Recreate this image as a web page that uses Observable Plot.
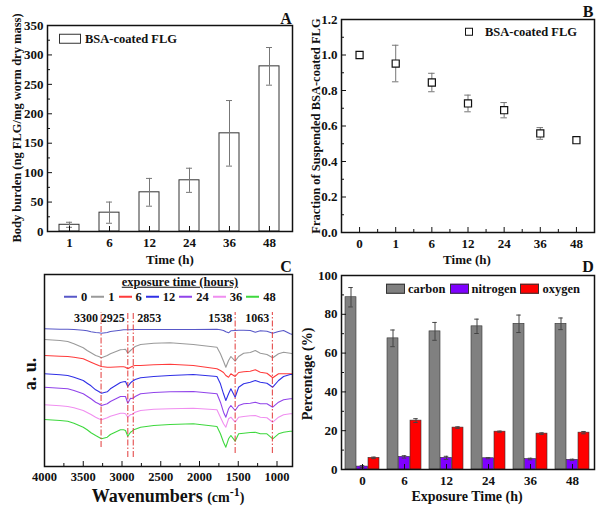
<!DOCTYPE html>
<html><head><meta charset="utf-8">
<script src="https://cdn.jsdelivr.net/npm/d3@7"></script>
<script src="https://cdn.jsdelivr.net/npm/@observablehq/plot@0.6"></script>
<style>
body{margin:0;background:#fff}
#root{position:relative;width:604px;height:511px;overflow:hidden;font-family:"Liberation Serif","Times New Roman",serif;font-weight:bold;color:#111;background:#fff}
.p{position:absolute}
.t{position:absolute;white-space:nowrap;line-height:1}
.c{transform:translate(-50%,-50%)}
.r{transform:translate(-50%,-50%) rotate(-90deg)}
.row{position:absolute;display:flex;align-items:center;white-space:nowrap;line-height:1;transform:translateY(-50%)}
</style></head><body><div id="root"></div>
<script>
// ---------- Panel A: body burden ----------
const timesA = ["1","6","12","24","36","48"];
const burden = [11.4, 32, 66.6, 87, 166.8, 280.6];
const burdenErr = [4.3, 18, 23.6, 20.5, 55.7, 32];

// ---------- Panel B: suspended fraction ----------
const timesB = ["0","1","6","12","24","36","48"];
const fraction = [1.0, 0.952, 0.845, 0.727, 0.689, 0.558, 0.52];
const fractionErr = [0.019, 0.103, 0.052, 0.047, 0.043, 0.033, 0.015];

// ---------- Panel C: FTIR spectra (a.u., offset) ----------
const wavenumbers = [4000,3800,3700,3620,3500,3450,3400,3340,3300,3265,3190,3150,3020,2980,2955,2925,2890,2870,2850,2830,2760,2590,2380,2080,1775,1730,1690,1660,1625,1595,1540,1495,1430,1345,1280,1215,1130,1055,980,915,830,800];
const spec0 = [137.7,137.3,137.3,137.0,136.3,135.7,134.7,134.0,133.7,133.3,134.0,135.0,136.3,136.7,136.7,136.7,136.7,137.0,137.0,137.0,137.0,137.0,137.0,137.0,137.3,136.7,136.0,134.7,133.7,135.7,136.0,136.3,136.3,136.0,134.3,135.7,135.3,133.3,135.0,136.0,132.7,132.0];
const spec1 = [127.0,126.0,125.0,122.7,118.7,116.0,113.7,111.0,110.0,108.7,111.0,112.7,116.7,117.0,117.3,113.3,116.0,117.3,118.7,120.0,122.0,123.3,123.7,122.0,119.3,112.7,105.3,99.3,106.0,110.0,105.3,110.0,113.3,114.0,116.0,113.3,112.0,108.7,112.7,114.3,113.3,112.7];
const spec6 = [111.0,110.3,110.0,109.3,107.7,106.0,104.3,102.3,101.0,100.0,99.3,99.3,99.7,99.7,99.3,97.7,99.3,100.0,100.7,101.0,101.0,101.7,102.3,101.0,97.7,96.0,94.0,91.0,89.3,92.7,90.0,94.0,94.7,95.3,96.7,94.3,93.3,88.7,92.7,92.7,92.7,92.7];
const spec12 = [92.7,91.7,91.0,89.3,86.0,83.3,80.7,76.7,75.0,73.3,74.7,77.7,84.0,84.7,85.0,80.0,83.7,85.0,86.0,87.0,88.7,90.0,91.0,92.0,90.0,82.7,72.7,66.0,72.7,77.7,69.3,79.3,82.7,84.3,86.0,84.3,83.3,79.3,86.0,90.0,92.0,92.0];
const spec24 = [79.3,78.3,77.7,76.0,72.7,70.3,67.7,64.3,62.7,61.0,62.7,65.0,70.0,70.0,70.0,63.3,68.3,68.0,68.7,70.0,72.7,74.0,74.7,75.0,72.7,64.3,54.3,49.3,57.7,61.0,56.0,61.0,62.7,63.3,64.3,62.7,62.7,59.3,64.3,66.7,67.7,67.7];
const spec36 = [61.7,60.7,60.0,58.7,56.0,54.0,52.0,49.3,47.7,46.7,48.7,50.3,53.3,53.3,52.7,49.3,52.0,52.0,53.3,54.3,56.0,57.3,57.7,58.3,56.7,49.3,42.7,39.3,47.7,49.3,44.3,49.3,50.0,50.7,51.0,49.3,48.7,44.3,49.3,51.7,52.7,52.7];
const spec48 = [47.0,46.0,45.3,43.3,39.3,36.7,33.7,31.0,29.3,27.7,29.3,32.0,36.7,36.7,36.0,30.3,34.3,35.3,36.7,37.3,39.3,41.0,42.0,42.7,40.0,32.7,24.3,19.3,27.7,31.0,25.3,32.7,33.3,34.0,34.3,32.7,32.7,27.7,32.7,34.3,35.3,35.3];
const exposureTimes = ["0","1","6","12","24","36","48"];
const spectraColors = ["#5858c8","#9a9a9a","#ff3b3b","#3030e6","#9144ea","#f08ef0","#3ed83e"];
const peakPos = [3270, 2925, 2855, 1540, 1060];
const peakLabels = ["3300","2925","2853","1538","1063"];
const peakLineBottom = [19, 9, 9, 13, 13];
const peakLineTop = 154;

// ---------- Panel D: elemental composition ----------
const timesD = ["0","6","12","24","36","48"];
const elements = ["carbon","nitrogen","oxygen"];
const elementColors = ["#808080","#7f00ff","#ff0000"];
const carbon = [88.8, 67.6, 71.2, 73.8, 75.1, 75.1];
const carbonErr = [5.0, 4.3, 4.6, 3.7, 4.5, 3.0];
const nitrogen = [1.5, 6.5, 6.0, 5.8, 5.4, 5.0];
const nitrogenErr = [0.5, 0.6, 0.8, 0.3, 0.4, 0.3];
const oxygen = [6.0, 25.2, 21.6, 19.5, 18.5, 19.0];
const oxygenErr = [0.4, 1.0, 0.4, 0.3, 0.4, 0.6];

// ---------------------------------------------------------
const root = document.getElementById("root");
const style = {fontFamily: '"Liberation Serif", "Times New Roman", serif', fontSize: "13px", fontWeight: "bold", background: "transparent", overflow: "visible", color: "#111"};
const blank = () => "";
function place(node, left, top) {
  const d = document.createElement("div");
  d.className = "p"; d.style.left = left + "px"; d.style.top = top + "px";
  d.appendChild(node); root.appendChild(d);
}
function label(html, x, y, size, cls) {
  const d = document.createElement("div");
  d.className = "t " + cls; d.style.left = x + "px"; d.style.top = y + "px";
  d.style.fontSize = size + "px"; d.innerHTML = html; root.appendChild(d);
  return d;
}

// Panel A
const dataA = timesA.map((t, i) => ({t, v: burden[i], lo: burden[i] - burdenErr[i], hi: burden[i] + burdenErr[i]}));
place(Plot.plot({
  width: 300, height: 250, marginLeft: 47, marginRight: 8, marginTop: 25, marginBottom: 19,
  style,
  x: {type: "band", domain: timesA, paddingInner: 0.49, paddingOuter: 0.24},
  y: {domain: [0, 350]},
  marks: [
    Plot.barY(dataA, {x: "t", y: "v", fill: "white", stroke: "#333", strokeWidth: 1}),
    Plot.ruleX(dataA, {x: "t", y1: "lo", y2: "hi", stroke: "#777"}),
    Plot.tickY(dataA, {x: "t", y: "lo", stroke: "#777", insetLeft: 7, insetRight: 7}),
    Plot.tickY(dataA, {x: "t", y: "hi", stroke: "#777", insetLeft: 7, insetRight: 7}),
    Plot.axisY(d3.range(0, 351, 50), {tickSize: -5, tickPadding: 9, label: null}),
    Plot.axisY(d3.range(25, 350, 50), {tickSize: -3, tickFormat: blank, label: null}),
    Plot.axisX({tickSize: -5, tickPadding: 11, label: null}),
    Plot.frame({stroke: "#111", strokeWidth: 1.5})
  ]
}), 0, 0);

// Panel B
const dataB = timesB.map((t, i) => ({i, t, v: fraction[i], lo: fraction[i] - fractionErr[i], hi: fraction[i] + fractionErr[i]}));
place(Plot.plot({
  width: 304, height: 250, marginLeft: 41, marginRight: 10, marginTop: 19, marginBottom: 18,
  style,
  x: {domain: [-0.5, timesB.length - 0.5]},
  y: {domain: [0, 1.2]},
  marks: [
    Plot.ruleX(dataB, {x: "i", y1: "lo", y2: "hi", stroke: "#777"}),
    Plot.ruleY(dataB, {x1: d => d.i - 0.09, x2: d => d.i + 0.09, y: "lo", stroke: "#777"}),
    Plot.ruleY(dataB, {x1: d => d.i - 0.09, x2: d => d.i + 0.09, y: "hi", stroke: "#777"}),
    Plot.dot(dataB, {x: "i", y: "v", symbol: "square", r: 4, stroke: "#111", fill: "white", strokeWidth: 1.2}),
    Plot.axisY(d3.range(0, 1.21, 0.2), {tickFormat: d3.format(".1f"), tickSize: -5, tickPadding: 9, label: null}),
    Plot.axisY(d3.range(0.1, 1.2, 0.2), {tickSize: -3, tickFormat: blank, label: null}),
    Plot.axisX(d3.range(timesB.length), {tickFormat: i => timesB[i], tickSize: -5, tickPadding: 11, label: null}),
    Plot.axisX(d3.range(0.5, timesB.length - 1, 1), {tickSize: -3, tickFormat: blank, label: null}),
    Plot.frame({stroke: "#111", strokeWidth: 1.5})
  ]
}), 300, 0);

// Panel C
const spectra = [spec0, spec1, spec6, spec12, spec24, spec36, spec48];
const dataC = exposureTimes.flatMap((t, k) => wavenumbers.map((w, j) => ({t, w, a: spectra[k][j]})));
const peaks = peakPos.map((pos, i) => ({pos, label: peakLabels[i], bottom: peakLineBottom[i], i}));
place(Plot.plot({
  width: 300, height: 235, marginLeft: 44, marginRight: 8, marginTop: 19, marginBottom: 24,
  style: {...style, fontSize: "12.5px"},
  x: {domain: [4000, 800]},
  y: {domain: [0, 192], axis: null},
  color: {domain: exposureTimes, range: spectraColors},
  marks: [
    Plot.line(dataC, {x: "w", y: "a", z: "t", stroke: "t", strokeWidth: 1.1}),
    Plot.ruleX(peaks, {x: "pos", y1: "bottom", y2: peakLineTop, stroke: "#e23a3a", strokeWidth: 1, strokeDasharray: "6,2,1.5,2"}),
    Plot.text(peaks.filter(d => d.i !== 2), {x: "pos", text: "label", frameAnchor: "top", dy: 39, dx: -3, textAnchor: "end", fill: "#111", fontSize: 12}),
    Plot.text(peaks.filter(d => d.i === 2), {x: "pos", text: "label", frameAnchor: "top", dy: 39, dx: 4, textAnchor: "start", fill: "#111", fontSize: 12}),
    Plot.axisX(d3.range(1000, 4001, 500), {tickFormat: d3.format("d"), tickSize: -5, tickPadding: 11, label: null}),
    Plot.axisX(d3.range(1250, 4000, 500), {tickSize: -3, tickFormat: blank, label: null}),
    Plot.frame({stroke: "#111", strokeWidth: 1.5})
  ]
}), 0, 255);

// Panel D
const dataD = timesD.map((t, i) => ({t,
  carbon: carbon[i], cLo: carbon[i] - carbonErr[i], cHi: carbon[i] + carbonErr[i],
  nitrogen: nitrogen[i], nLo: nitrogen[i] - nitrogenErr[i], nHi: nitrogen[i] + nitrogenErr[i],
  oxygen: oxygen[i], oLo: oxygen[i] - oxygenErr[i], oHi: oxygen[i] + oxygenErr[i]}));
const bw = 34.5, third = bw / 3, capIn = bw / 2 - 2.5;
const groups = [["carbon","cLo","cHi",0,2*third,-third],["nitrogen","nLo","nHi",third,third,0],["oxygen","oLo","oHi",2*third,0,third]];
const marksD = [];
groups.forEach(([key, lo, hi, il, ir, dx], k) => {
  marksD.push(Plot.barY(dataD, {x: "t", y: key, fill: elementColors[k], stroke: "#333", strokeWidth: 0.6, insetLeft: il, insetRight: ir}));
});
groups.forEach(([key, lo, hi, il, ir, dx]) => {
  marksD.push(Plot.ruleX(dataD, {x: "t", y1: lo, y2: hi, stroke: "#444", dx}));
  marksD.push(Plot.tickY(dataD, {x: "t", y: lo, stroke: "#444", insetLeft: capIn, insetRight: capIn, dx}));
  marksD.push(Plot.tickY(dataD, {x: "t", y: hi, stroke: "#444", insetLeft: capIn, insetRight: capIn, dx}));
});
place(Plot.plot({
  width: 304, height: 235, marginLeft: 41, marginRight: 10, marginTop: 20, marginBottom: 21,
  style,
  x: {type: "band", domain: timesD, paddingInner: 0.18, paddingOuter: 0.1},
  y: {domain: [0, 100]},
  marks: [
    ...marksD,
    Plot.axisY(d3.range(0, 101, 20), {tickSize: -5, tickPadding: 9, label: null}),
    Plot.axisY(d3.range(10, 100, 20), {tickSize: -3, tickFormat: blank, label: null}),
    Plot.axisX({tickSize: -5, tickPadding: 11, label: null}),
    Plot.frame({stroke: "#111", strokeWidth: 1.5})
  ]
}), 300, 255);

// ---------- text: axis titles, panel letters ----------
label("Body burden (ng FLG/mg worm dry mass)", 17, 128, 12.5, "r");
label("Time (h)", 170, 259, 13, "c");
label("A", 286, 19, 16, "c");
label("Fraction of Suspended BSA-coated FLG", 316, 126, 12.5, "r");
label("Time (h)", 467, 259, 13, "c");
label("B", 588, 12, 16, "c");
label("a. u.", 30, 374, 18, "r");
label('Wavenumbers <span style="font-size:14px">(cm<sup style="font-size:12px;vertical-align:6px">-1</sup>)</span>', 168, 495, 18, "c");
label("C", 286, 267, 16, "c");
label("Percentage (%)", 308, 374, 14, "r");
label("Exposure Time (h)", 467, 497, 14, "c");
label("D", 588, 267, 16, "c");

// ---------- legends ----------
const la = document.createElement("div");
la.className = "row"; la.style.left = "59px"; la.style.top = "38.5px"; la.style.fontSize = "12.5px";
la.innerHTML = '<span style="display:inline-block;width:20px;height:8px;border:1px solid #333;background:#fff;margin-right:4px"></span>BSA-coated FLG';
root.appendChild(la);

const lb = document.createElement("div");
lb.className = "row"; lb.style.left = "465px"; lb.style.top = "32px"; lb.style.fontSize = "12.5px";
lb.innerHTML = '<span style="display:inline-block;width:6px;height:6px;border:1.2px solid #111;background:#fff;margin-right:12px"></span>BSA-coated FLG';
root.appendChild(lb);

const lct = label("exposure time (hours)", 180, 282, 12.5, "c");
lct.style.textDecoration = "underline";
const lc = document.createElement("div");
lc.className = "row"; lc.style.left = "64px"; lc.style.top = "297px"; lc.style.fontSize = "12.5px";
lc.innerHTML = exposureTimes.map((t, k) =>
  `<span style="display:inline-block;width:13px;height:1.6px;background:${spectraColors[k]};margin-right:4px"></span><span style="margin-right:4px">${t}</span>`).join("");
root.appendChild(lc);

const ld = document.createElement("div");
ld.className = "row"; ld.style.left = "386px"; ld.style.top = "289px"; ld.style.fontSize = "12.5px";
ld.innerHTML = elements.map((e, k) =>
  `<span style="display:inline-block;width:17px;height:8px;background:${elementColors[k]};border:0.6px solid #333;margin-right:3px"></span><span style="margin-right:4px">${e}</span>`).join("");
root.appendChild(ld);
</script></body></html>
